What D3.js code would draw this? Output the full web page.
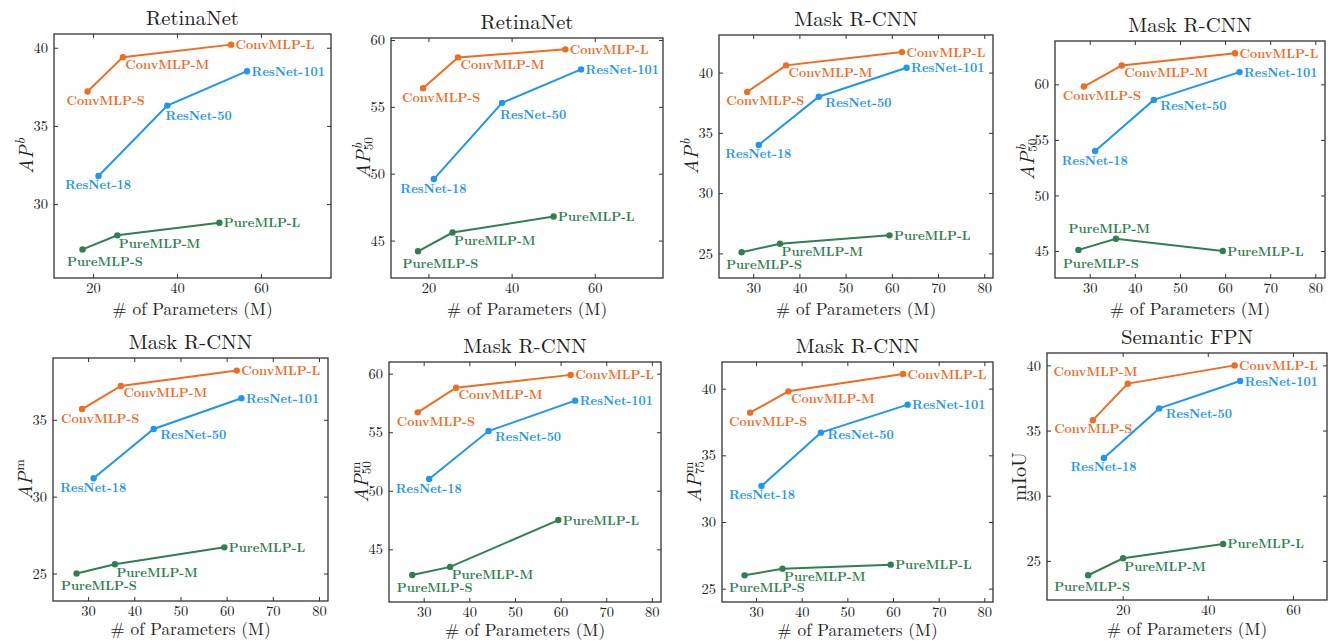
<!DOCTYPE html>
<html>
<head>
<meta charset="utf-8">
<script src="https://cdn.jsdelivr.net/npm/d3@7"></script>
<style>
  body { margin: 0; background: #fff; }
  svg { display: block; }
</style>
</head>
<body>
<div id="chart"></div>
<script>
// Model names
var convNames = ["ConvMLP-S", "ConvMLP-M", "ConvMLP-L"];
var resNames = ["ResNet-18", "ResNet-50", "ResNet-101"];
var pureNames = ["PureMLP-S", "PureMLP-M", "PureMLP-L"];

// # of parameters (M)
var retinaConvParams = [18.7, 27.1, 52.9];
var retinaResParams = [21.3, 37.7, 56.7];
var retinaPureParams = [17.5, 25.8, 50.1];
var maskConvParams = [28.7, 37.1, 62.2];
var maskResParams = [31.2, 44.2, 63.2];
var maskPureParams = [27.5, 35.8, 59.5];
var fpnConvParams = [13.0, 21.2, 46.3];
var fpnResParams = [15.6, 28.6, 47.6];
var fpnPureParams = [11.9, 20.1, 43.6];

// RetinaNet AP^b / AP^b_50
var retinaAPbConv = [37.2, 39.4, 40.2];
var retinaAPbRes = [31.8, 36.3, 38.5];
var retinaAPbPure = [27.1, 28.0, 28.8];
var retinaAPb50Conv = [56.4, 58.7, 59.3];
var retinaAPb50Res = [49.6, 55.3, 57.8];
var retinaAPb50Pure = [44.2, 45.6, 46.8];

// Mask R-CNN box AP
var maskAPbConv = [38.4, 40.6, 41.7];
var maskAPbRes = [34.0, 38.0, 40.4];
var maskAPbPure = [25.1, 25.8, 26.5];
var maskAPb50Conv = [59.8, 61.7, 62.8];
var maskAPb50Res = [54.0, 58.6, 61.1];
var maskAPb50Pure = [45.1, 46.1, 45.0];

// Mask R-CNN mask AP
var maskAPmConv = [35.7, 37.2, 38.2];
var maskAPmRes = [31.2, 34.4, 36.4];
var maskAPmPure = [25.0, 25.6, 26.7];
var maskAPm50Conv = [56.7, 58.8, 59.9];
var maskAPm50Res = [51.0, 55.1, 57.7];
var maskAPm50Pure = [42.8, 43.5, 47.5];
var maskAPm75Conv = [38.2, 39.8, 41.1];
var maskAPm75Res = [32.7, 36.7, 38.8];
var maskAPm75Pure = [26.0, 26.5, 26.8];

// Semantic FPN mIoU
var fpnMIoUConv = [35.8, 38.6, 40.0];
var fpnMIoURes = [32.9, 36.7, 38.8];
var fpnMIoUPure = [23.9, 25.2, 26.3];

var svgWidth = 1330;
var svgHeight = 642;

var colors = { conv: "#f26b1f", res: "#1f96f2", pure: "#2e8052" };
// single family name only, font lists were not picked up
var serif = "Latin Modern Roman";

// default label offsets (text start / baseline relative to point)
var defaultOffsets = {
    conv: [[-21, 13.5], [2.5, 11.5], [4.5, 4.5]],
    res: [[-33.5, 13.5], [6.5, 10], [4.5, 4.5]],
    pure: [[-15.5, 17], [1.5, 12.5], [4.5, 4.5]]
};

var panels = [
    {
        title: "RetinaNet", box: [54, 331, 34, 278], xlabGap: 37,
        xDomain: [10.7, 76.7], yDomain: [25.27, 40.88],
        xTicks: [20, 40, 60], yTicks: [30, 35, 40],
        ylab: { main: "AP", italic: true, sup: "b", supItalic: true, sub: "" },
        conv: [retinaConvParams, retinaAPbConv], res: [retinaResParams, retinaAPbRes], pure: [retinaPureParams, retinaAPbPure],
        offsets: { res: [[-33.5, 13.5], [-1.8, 14.5], [4.5, 4.5]] }
    },
    {
        title: "RetinaNet", box: [391, 663, 38, 278], xlabGap: 37,
        xDomain: [11.0, 76.4], yDomain: [42.2, 60.15],
        xTicks: [20, 40, 60], yTicks: [45, 50, 55, 60],
        ylab: { main: "AP", italic: true, sup: "b", supItalic: true, sub: "50" },
        conv: [retinaConvParams, retinaAPb50Conv], res: [retinaResParams, retinaAPb50Res], pure: [retinaPureParams, retinaAPb50Pure],
        offsets: { res: [[-33.5, 13.5], [-2, 16.5], [4.5, 4.5]] }
    },
    {
        title: "Mask R-CNN", box: [719, 993, 35, 278], xlabGap: 37,
        xDomain: [22.6, 81.9], yDomain: [22.96, 43.12],
        xTicks: [30, 40, 50, 60, 70, 80], yTicks: [25, 30, 35, 40],
        ylab: { main: "AP", italic: true, sup: "b", supItalic: true, sub: "" },
        conv: [maskConvParams, maskAPbConv], res: [maskResParams, maskAPbRes], pure: [maskPureParams, maskAPbPure],
        offsets: {}
    },
    {
        title: "Mask R-CNN", box: [1055, 1325, 41, 278], xlabGap: 37,
        xDomain: [22.3, 82.15], yDomain: [42.57, 63.9],
        xTicks: [30, 40, 50, 60, 70, 80], yTicks: [45, 50, 55, 60],
        ylab: { main: "AP", italic: true, sup: "b", supItalic: true, sub: "50" },
        conv: [maskConvParams, maskAPb50Conv], res: [maskResParams, maskAPb50Res], pure: [maskPureParams, maskAPb50Pure],
        offsets: { pure: [[-15.5, 18], [-47.3, -5.7], [4.5, 4.5]] }
    },
    {
        title: "Mask R-CNN", box: [53, 328, 358, 601], xlabGap: 34,
        xDomain: [22.4, 81.95], yDomain: [23.21, 39.02],
        xTicks: [30, 40, 50, 60, 70, 80], yTicks: [25, 30, 35],
        ylab: { main: "AP", italic: true, sup: "m", supItalic: false, sub: "" },
        conv: [maskConvParams, maskAPmConv], res: [maskResParams, maskAPmRes], pure: [maskPureParams, maskAPmPure],
        offsets: {}
    },
    {
        title: "Mask R-CNN", box: [389, 661, 362, 602], xlabGap: 34,
        xDomain: [22.4, 82.0], yDomain: [40.5, 61.0],
        xTicks: [30, 40, 50, 60, 70, 80], yTicks: [45, 50, 55, 60],
        ylab: { main: "AP", italic: true, sup: "m", supItalic: false, sub: "50" },
        conv: [maskConvParams, maskAPm50Conv], res: [maskResParams, maskAPm50Res], pure: [maskPureParams, maskAPm50Pure],
        offsets: {}
    },
    {
        title: "Mask R-CNN", box: [722, 993, 362, 602], xlabGap: 34,
        xDomain: [22.55, 81.9], yDomain: [24.0, 42.0],
        xTicks: [30, 40, 50, 60, 70, 80], yTicks: [25, 30, 35, 40],
        ylab: { main: "AP", italic: true, sup: "m", supItalic: false, sub: "75" },
        conv: [maskConvParams, maskAPm75Conv], res: [maskResParams, maskAPm75Res], pure: [maskPureParams, maskAPm75Pure],
        offsets: { res: [[-32.5, 12.7], [6.7, 6.3], [4.5, 4.2]] }
    },
    {
        title: "Semantic FPN", box: [1047, 1327, 353, 600], xlabGap: 35,
        xDomain: [2.23, 68.0], yDomain: [22.0, 40.95],
        xTicks: [20, 40, 60], yTicks: [25, 30, 35, 40],
        ylab: { main: "mIoU", italic: false, sup: "", supItalic: false, sub: "" },
        conv: [fpnConvParams, fpnMIoUConv], res: [fpnResParams, fpnMIoURes], pure: [fpnPureParams, fpnMIoUPure],
        offsets: { conv: [[-38.7, 13.3], [-74.3, -8], [4.5, 4.5]], pure: [[-34, 16], [1.2, 13], [4.5, 4.5]] }
    }
];

var svg = d3.select("#chart")
    .append("svg")
    .attr("width", svgWidth)
    .attr("height", svgHeight);

panels.forEach(function (p) {
    var left = p.box[0], right = p.box[1], top = p.box[2], bottom = p.box[3];

    var x = d3.scaleLinear().domain(p.xDomain).range([left, right]);
    var y = d3.scaleLinear().domain(p.yDomain).range([bottom, top]);

    var g = svg.append("g");

    // Axes with inward ticks on all four sides
    g.append("g")
        .attr("transform", `translate(0, ${bottom})`)
        .call(d3.axisBottom(x).tickValues(p.xTicks).tickSize(-4).tickPadding(5).tickFormat(d3.format("d")));
    g.append("g")
        .attr("transform", `translate(${left}, 0)`)
        .call(d3.axisLeft(y).tickValues(p.yTicks).tickSize(-4).tickPadding(6).tickFormat(d3.format("d")));
    g.append("g")
        .attr("transform", `translate(0, ${top})`)
        .call(d3.axisTop(x).tickValues(p.xTicks).tickSize(-4).tickFormat(""));
    g.append("g")
        .attr("transform", `translate(${right}, 0)`)
        .call(d3.axisRight(y).tickValues(p.yTicks).tickSize(-4).tickFormat(""));

    g.selectAll(".domain").remove();
    g.selectAll(".tick line").attr("stroke", "#333").attr("stroke-width", 1);
    g.selectAll(".tick text")
        .attr("font-family", null)
        .style("font-family", serif)
        .style("font-size", "14.5px")
        .attr("fill", "#222");

    // Frame
    g.append("rect")
        .attr("x", left)
        .attr("y", top)
        .attr("width", right - left)
        .attr("height", bottom - top)
        .attr("fill", "none")
        .attr("stroke", "#333")
        .attr("stroke-width", 1.3);

    // Title
    g.append("text")
        .attr("x", (left + right) / 2)
        .attr("y", top - 9)
        .attr("text-anchor", "middle")
        .style("font-family", serif)
        .style("font-size", "20.7px")
        .attr("fill", "#222")
        .text(p.title);

    // X label
    g.append("text")
        .attr("x", (left + right) / 2)
        .attr("y", bottom + p.xlabGap)
        .attr("text-anchor", "middle")
        .style("font-family", serif)
        .style("font-size", "17.3px")
        .attr("fill", "#222")
        .text("# of Parameters (M)");

    // Y label (rotated, with super/subscripts)
    var yl = g.append("text")
        .attr("transform", `translate(${left - 21}, ${(top + bottom) / 2}) rotate(-90)`)
        .attr("text-anchor", "middle")
        .style("font-family", serif)
        .style("font-size", "20px")
        .attr("fill", "#222");
    yl.append("tspan")
        .style("font-style", p.ylab.italic ? "italic" : "normal")
        .text(p.ylab.main);
    if (p.ylab.sup) {
        var supT = yl.append("tspan")
            .attr("dx", 1)
            .attr("dy", -8)
            .style("font-size", "14px")
            .style("font-style", p.ylab.supItalic ? "italic" : "normal")
            .text(p.ylab.sup);
        if (p.ylab.sub) {
            var w = supT.node().getComputedTextLength();
            yl.append("tspan")
                .attr("dx", -w - 1)
                .attr("dy", 11)
                .style("font-size", "13px")
                .style("font-style", "normal")
                .text(p.ylab.sub);
        }
    }

    // Series lines, points, and labels
    ["conv", "res", "pure"].forEach(function (key) {
        var xs = p[key][0], ys = p[key][1];
        var names = key === "conv" ? convNames : key === "res" ? resNames : pureNames;
        var offs = p.offsets[key] || defaultOffsets[key];
        var pts = xs.map(function (v, i) { return { x: v, y: ys[i], name: names[i], off: offs[i] }; });

        var line = d3.line()
            .x(d => x(d.x))
            .y(d => y(d.y));

        g.append("path")
            .datum(pts)
            .attr("d", line)
            .attr("fill", "none")
            .attr("stroke", colors[key])
            .attr("stroke-width", 2);

        g.selectAll(".pt-" + key)
            .data(pts)
            .enter()
            .append("circle")
            .attr("class", "pt-" + key)
            .attr("cx", d => x(d.x))
            .attr("cy", d => y(d.y))
            .attr("r", 3.2)
            .attr("fill", colors[key]);

        g.selectAll(".lab-" + key)
            .data(pts)
            .enter()
            .append("text")
            .attr("class", "lab-" + key)
            .attr("x", d => x(d.x) + d.off[0])
            .attr("y", d => y(d.y) + d.off[1])
            .style("font-family", serif)
            .style("font-size", "12.6px")
            .style("font-weight", "bold")
            .attr("fill", colors[key])
            .text(d => d.name);
    });
});
</script>
</body>
</html>
